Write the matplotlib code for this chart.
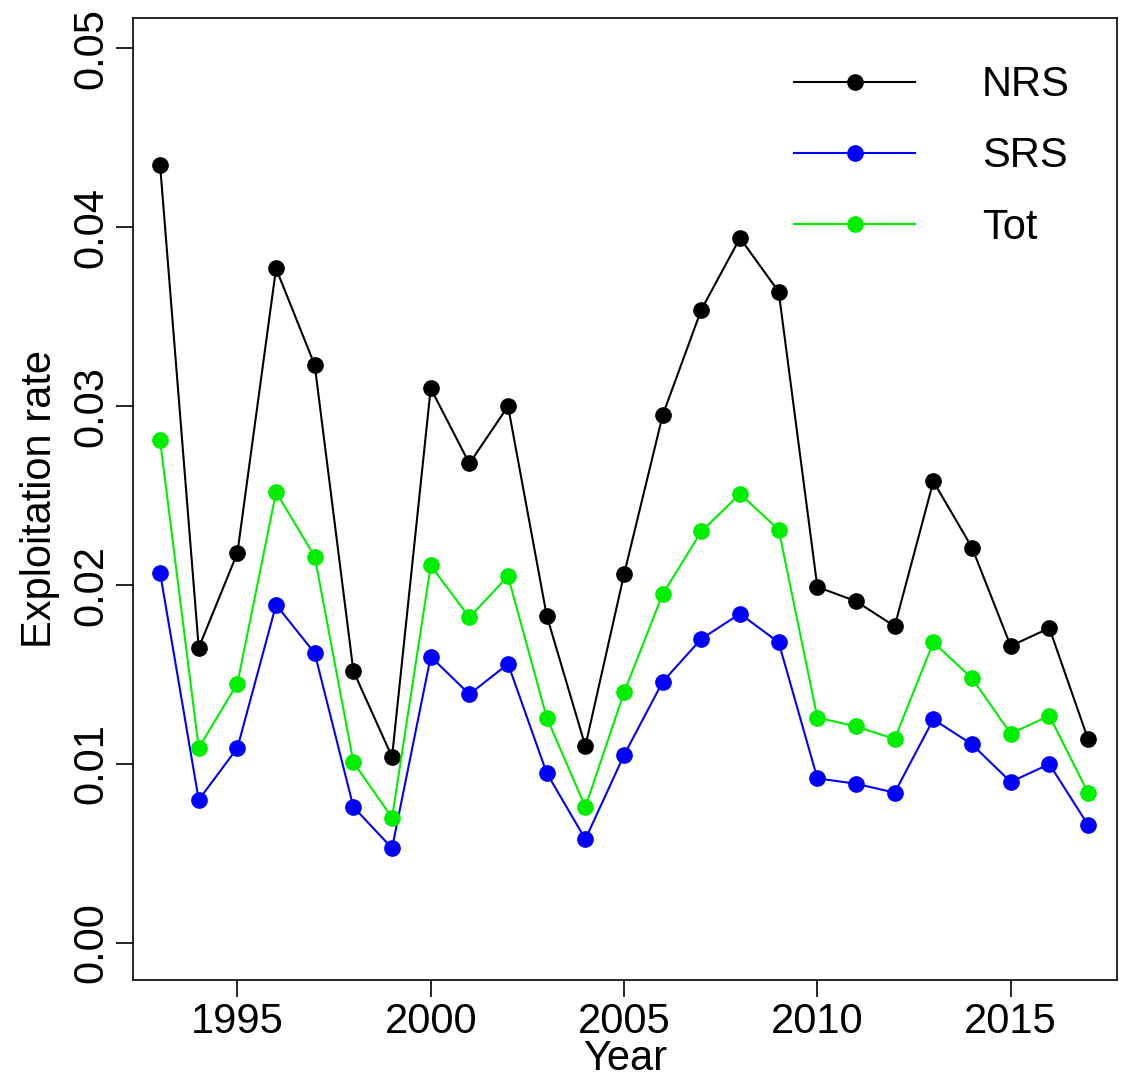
import matplotlib
matplotlib.use("Agg")
import matplotlib.pyplot as plt

years = list(range(1993, 2018))
nrs = [0.0435, 0.0165, 0.0218, 0.0377, 0.0323, 0.0152, 0.0104, 0.0310, 0.0268, 0.0300, 0.0183, 0.0110, 0.0206,
       0.0295, 0.0354, 0.0394, 0.0364, 0.0199, 0.0191, 0.0177, 0.0258, 0.0221, 0.0166, 0.0176, 0.0114]
tot = [0.0281, 0.0109, 0.0145, 0.0252, 0.0216, 0.0101, 0.0070, 0.0211, 0.0182, 0.0205, 0.0126, 0.0076, 0.0140,
       0.0195, 0.0230, 0.0251, 0.0231, 0.0126, 0.0121, 0.0114, 0.0168, 0.0148, 0.0117, 0.0127, 0.0084]
srs = [0.0207, 0.0080, 0.0109, 0.0189, 0.0162, 0.0076, 0.0053, 0.0160, 0.0139, 0.0156, 0.0095, 0.0058, 0.0105,
       0.0146, 0.0170, 0.0184, 0.0168, 0.0092, 0.0089, 0.0084, 0.0125, 0.0111, 0.0090, 0.0100, 0.0066]
yticks = [0.00, 0.01, 0.02, 0.03, 0.04, 0.05]
ylabels = ["0.00", "0.01", "0.02", "0.03", "0.04", "0.05"]
xticks = [1995, 2000, 2005, 2010, 2015]

plt.rcParams['font.family'] = ['Liberation Sans', 'DejaVu Sans']
fig = plt.figure(figsize=(11.31, 10.91), dpi=100)
ax = fig.add_axes([133/1131, 1-980/1091, (1117-133)/1131, (980-18)/1091])
ax.plot(years, nrs, color='black', marker='o', ms=11, lw=1.5, label='NRS')
ax.plot(years, srs, color='#0000FF', marker='o', ms=11, lw=1.5, label='SRS')
ax.plot(years, tot, color='#00EE00', marker='o', ms=11, lw=1.5, label='Tot')
ax.set_xlim(1992.3, 2017.75)
ax.set_ylim(-0.00207, 0.0517)
ax.set_yticks(yticks)
ax.set_yticklabels(ylabels, rotation=90, va='center', fontsize=30)
ax.set_xticks(xticks)
ax.set_xticklabels([str(x) for x in xticks], fontsize=30)
ax.tick_params(length=12, width=1.2)
for s in ax.spines.values():
    s.set_linewidth(1.2)
ax.set_xlabel('Year', fontsize=30, labelpad=-2)
ax.set_ylabel('Exploitation rate', fontsize=30, labelpad=8)
leg = ax.legend(loc='upper right', frameon=False, fontsize=30, handlelength=2.9,
                labelspacing=0.75, handletextpad=1.6, bbox_to_anchor=(0.99, 0.99))
fig.savefig('out.png', dpi=100)
